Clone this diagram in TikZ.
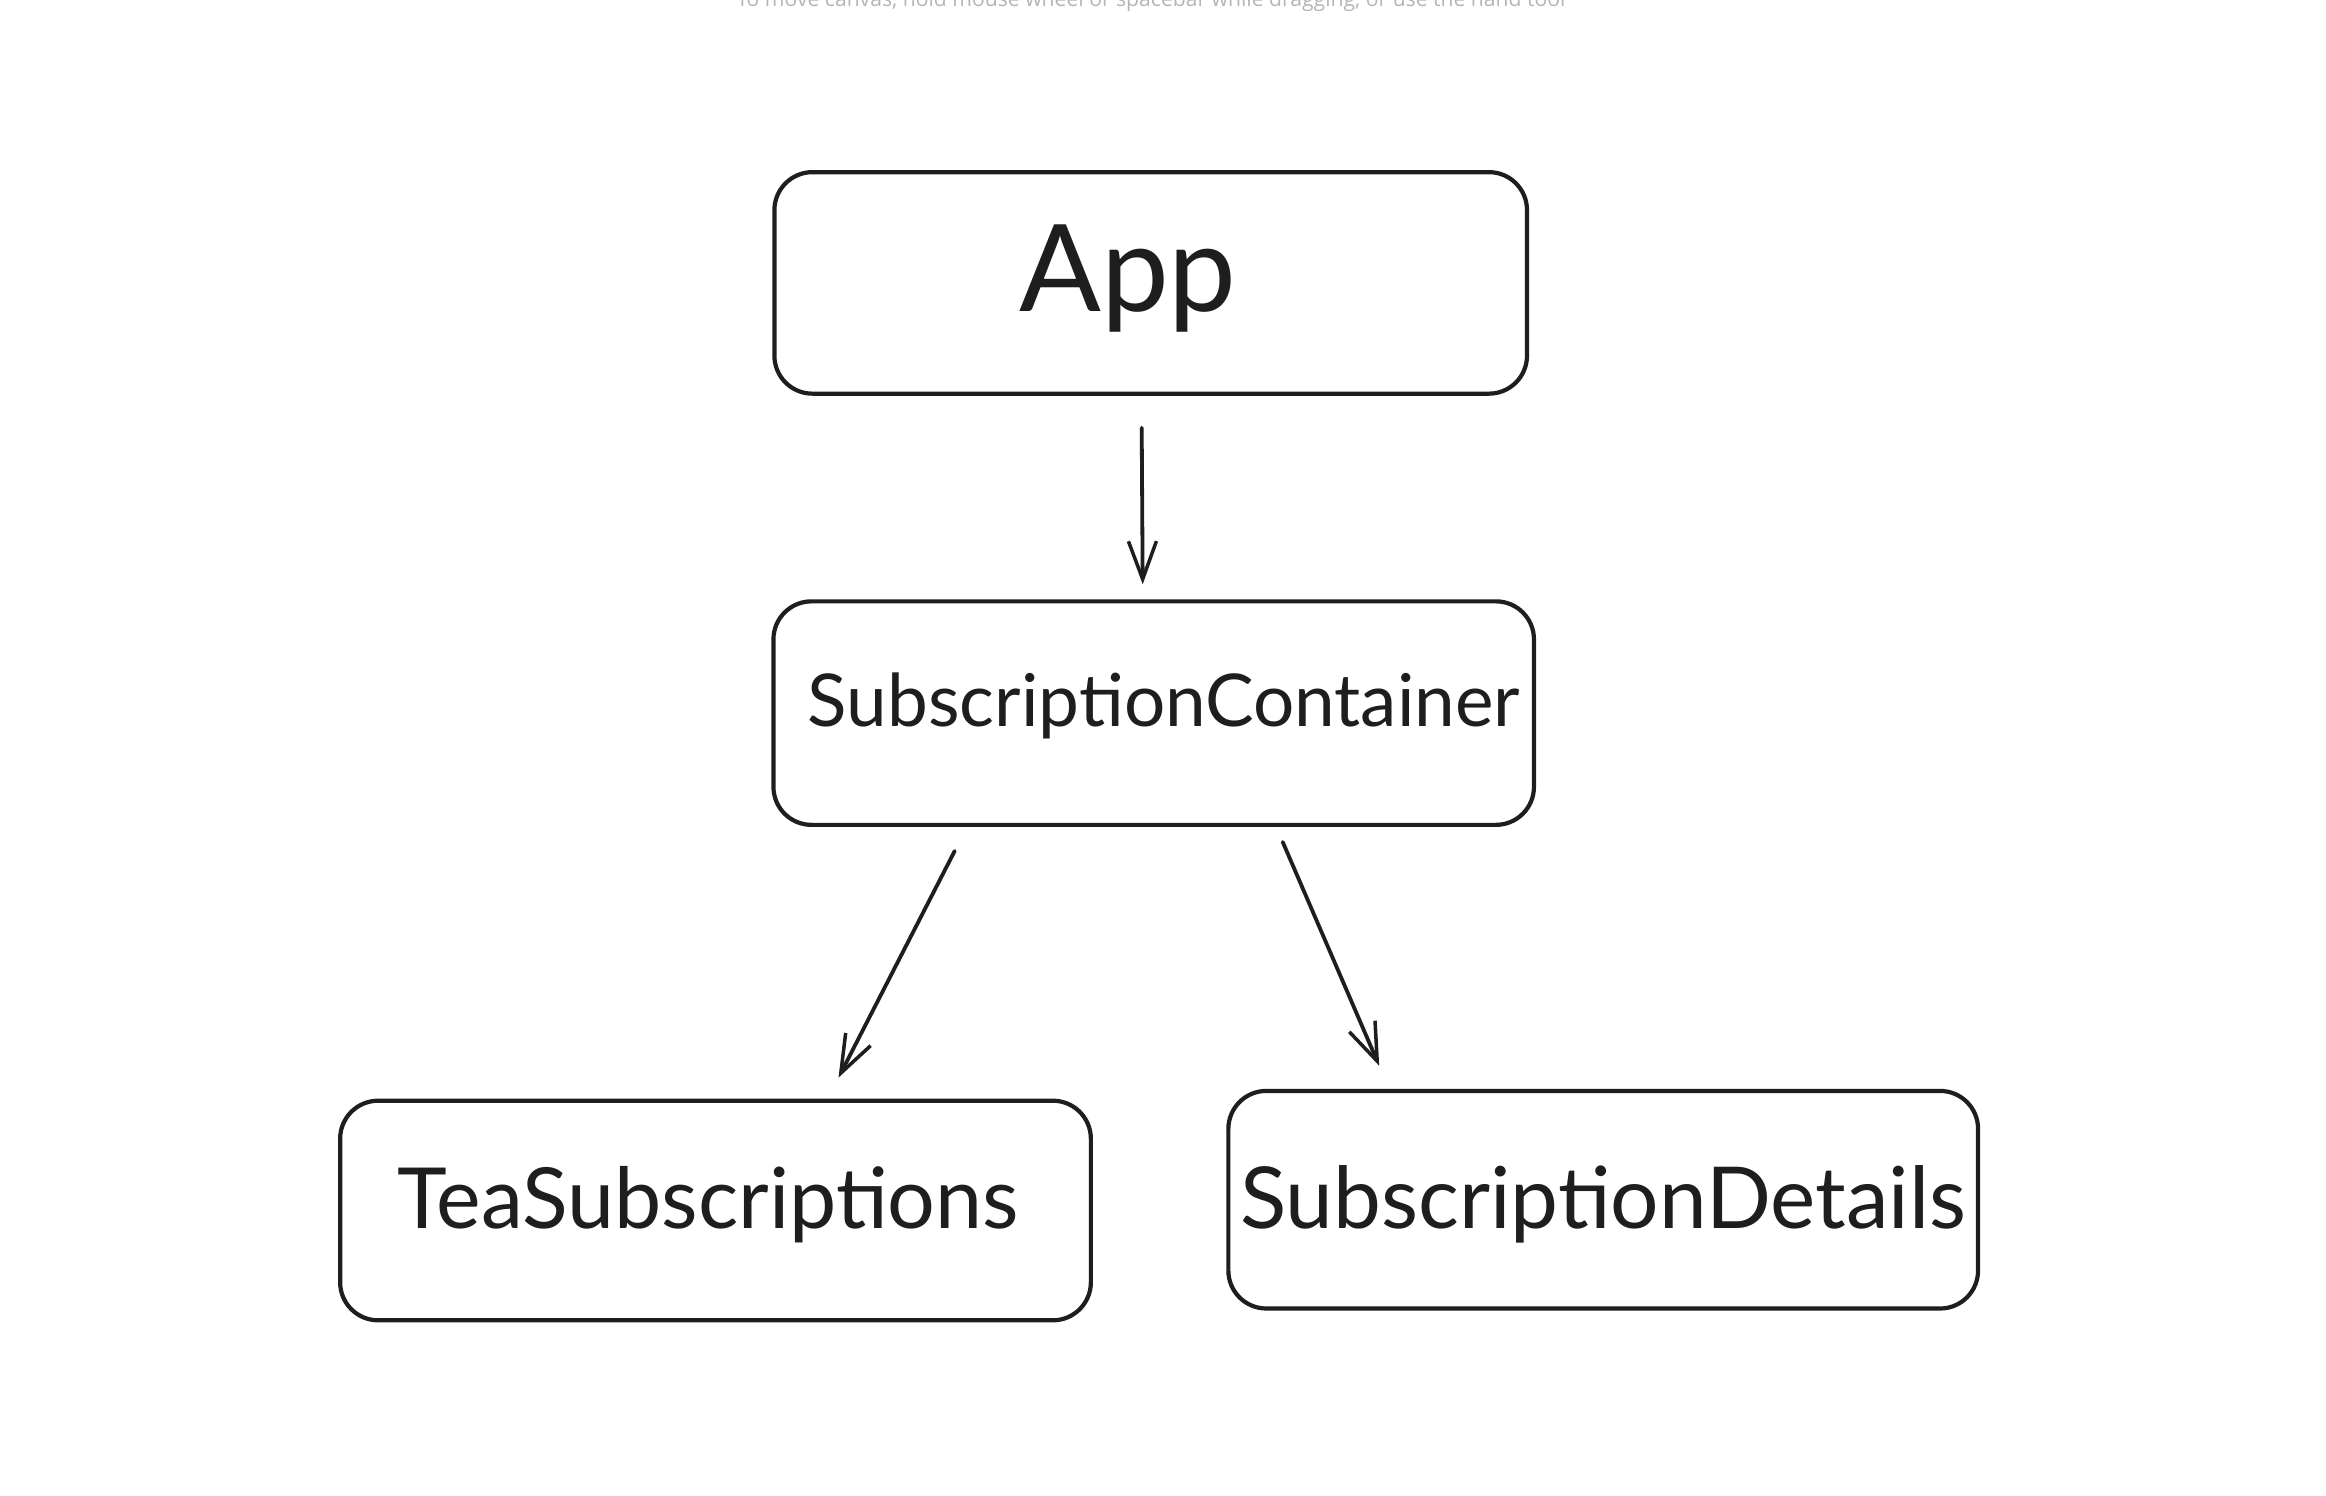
\documentclass[tikz,border=0pt]{standalone}
\usepackage{fontspec}
\setmainfont{Lato}
\newfontfamily\hintfont{Open Sans}
\usetikzlibrary{arrows.meta}
\definecolor{ink}{HTML}{1E1E1E}
\definecolor{hintgray}{HTML}{B5B5B5}
\begin{document}
\begin{tikzpicture}[x=1pt,y=-1pt,
  box/.style={draw=ink,line width=4.2pt,rounded corners=38pt,inner sep=0pt},
  arr/.style={draw=ink,line width=3.8pt,line cap=round,-{Straight Barb[length=38pt,width=28pt,line width=3.5pt]}},
  lbl/.style={text=ink,inner sep=0pt,anchor=base}]
\useasboundingbox (0,0) rectangle (2326,1496);
\fill[white] (0,0) rectangle (2326,1496);
\node[anchor=base,text=hintgray,inner sep=0pt] (hinttext) at (1151,7) {\resizebox{829pt}{!}{\hintfont\fontsize{22}{22}\selectfont To move canvas, hold mouse wheel or spacebar while dragging, or use the hand tool}};
\node[box,minimum width=752.6pt,minimum height=221.5pt] (app) at (1150.7,282.9) {};
\node[box,minimum width=760.5pt,minimum height=223.5pt] (cont) at (1153.7,713.1) {};
\node[box,minimum width=750.7pt,minimum height=219.6pt] (tea) at (715.5,1210.5) {};
\node[box,minimum width=749.7pt,minimum height=217.6pt] (det) at (1603.2,1199.7) {};
\node[lbl] (tapp) at (1128,311.5) {\fontsize{121}{122}\selectfont App};
\node[lbl] (tcont) at (1164,726.9) {\resizebox{712pt}{!}{\fontsize{70}{70}\selectfont SubscriptionContainer}};
\node[lbl] (ttea) at (708.1,1228.3) {\resizebox{622pt}{!}{\fontsize{70}{70}\selectfont TeaSubscriptions}};
\node[lbl] (tdet) at (1603.2,1228.3) {\resizebox{726pt}{!}{\fontsize{70}{70}\selectfont SubscriptionDetails}};
\draw[arr] ([xshift=-9pt,yshift=-32pt]app.south) -- ([xshift=-11pt,yshift=15pt]cont.north);
\draw[arr] ([xshift=-199pt,yshift=-24pt]cont.south) -- ([xshift=123pt,yshift=21pt]tea.north);
\draw[arr] ([xshift=129pt,yshift=-15pt]cont.south) -- ([xshift=-224pt,yshift=23pt]det.north);
\end{tikzpicture}
\end{document}
